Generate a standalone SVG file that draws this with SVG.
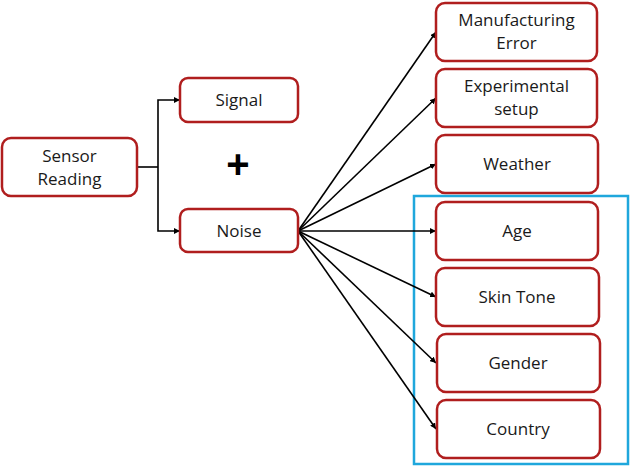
<svg xmlns="http://www.w3.org/2000/svg" width="630" height="467" viewBox="0 0 630 467">
<defs>
<marker id="ah" viewBox="0 0 10 10" refX="10" refY="5" markerWidth="6" markerHeight="6" orient="auto" markerUnits="userSpaceOnUse">
<path d="M0,0 L10,5 L0,10 z" fill="#000"/>
</marker>
<style>
.box{fill:#fff;stroke:#B01E1E;stroke-width:2.5}
.t{font-family:"Open Sans","Liberation Sans",sans-serif;font-size:17px;fill:#1a1a1a;text-anchor:middle}
.c{fill:none;stroke:#000;stroke-width:1.6}
.a{fill:none;stroke:#000;stroke-width:1.6;marker-end:url(#ah)}
</style>
</defs>
<rect x="414" y="196" width="214" height="268" fill="none" stroke="#1FA7DC" stroke-width="2.5"/>
<g id="connectors">
<path class="c" d="M137,167 H158"/>
<path class="a" d="M158,167 V100 H180"/>
<path class="a" d="M158,167 V231 H180"/>
<path class="a" d="M298,231 L436,32"/>
<path class="a" d="M298,231 L436,98"/>
<path class="a" d="M298,231 L436,164"/>
<path class="a" d="M298,231 L436,231"/>
<path class="a" d="M298,231 L436,297"/>
<path class="a" d="M298,231 L436,363"/>
<path class="a" d="M298,231 L436,429"/>
</g>
<g id="sensor"><rect class="box" x="2" y="138" width="135" height="58" rx="9"/><text class="t" x="69.5" y="162">Sensor</text><text class="t" x="69.5" y="185">Reading</text></g>
<g id="signal"><rect class="box" x="180" y="78" width="118" height="44" rx="8"/><text class="t" x="239" y="106">Signal</text></g>
<g id="plus"><text x="238" y="178" font-family="Liberation Sans,sans-serif" font-size="40" font-weight="bold" text-anchor="middle" fill="#000">+</text></g>
<g id="noise"><rect class="box" x="180" y="209" width="118" height="43" rx="8"/><text class="t" x="239" y="237">Noise</text></g>
<g id="manufacturing"><rect class="box" x="436" y="3" width="161" height="58" rx="9"/><text class="t" x="516.5" y="26">Manufacturing</text><text class="t" x="516.5" y="49">Error</text></g>
<g id="experimental"><rect class="box" x="436" y="69" width="161" height="58" rx="9"/><text class="t" x="516.5" y="92">Experimental</text><text class="t" x="516.5" y="115">setup</text></g>
<g id="weather"><rect class="box" x="436" y="135" width="162" height="58" rx="9"/><text class="t" x="517" y="170">Weather</text></g>
<g id="age"><rect class="box" x="436" y="202" width="162" height="58" rx="9"/><text class="t" x="517" y="237">Age</text></g>
<g id="skin"><rect class="box" x="436" y="268" width="163" height="58" rx="9"/><text class="t" x="517" y="303">Skin Tone</text></g>
<g id="gender"><rect class="box" x="437" y="334" width="163" height="58" rx="9"/><text class="t" x="518" y="369">Gender</text></g>
<g id="country"><rect class="box" x="437" y="400" width="163" height="58" rx="9"/><text class="t" x="518" y="435">Country</text></g>
</svg>
